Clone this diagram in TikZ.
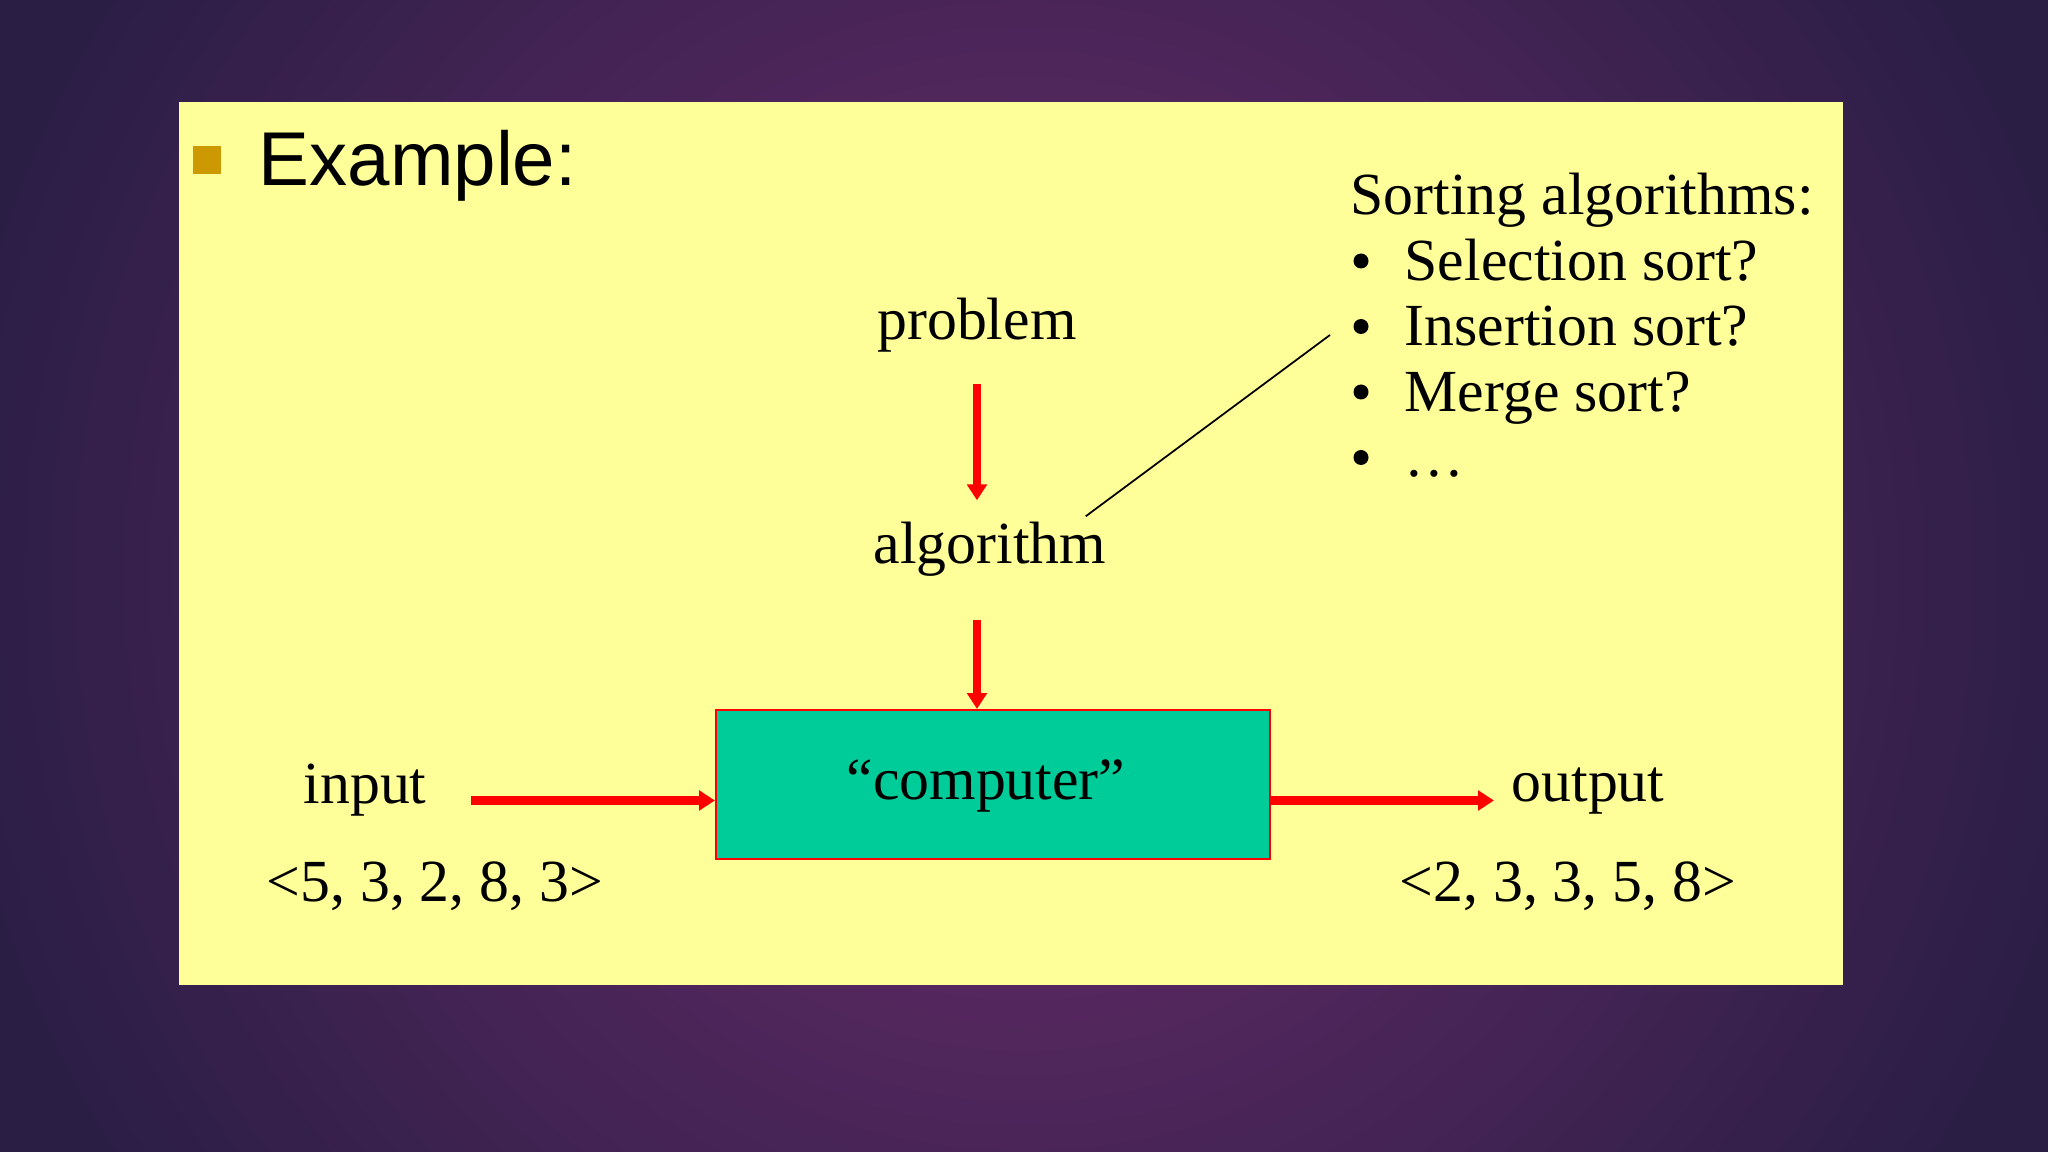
\documentclass[tikz,border=0pt]{standalone}
\usepackage{fontspec}
\setmainfont{Liberation Serif}
\newfontfamily\headfont{Liberation Sans}
\usetikzlibrary{calc, positioning}
\usetikzlibrary{arrows.meta}

\definecolor{slideyellow}{HTML}{FFFF99}
\definecolor{boxgreen}{HTML}{00CC99}
\definecolor{bulletgold}{HTML}{CC9900}
\definecolor{flowred}{HTML}{FF0000}
\definecolor{bgin}{HTML}{56285F}
\definecolor{bgout}{HTML}{2A1E45}

\tikzset{
  word/.style={inner sep=0pt, anchor=base west, text height=0.42cm, text depth=0.13cm,
    font=\fontsize{17}{20}\selectfont},
  compbox/.style={draw=red, line width=0.6pt, fill=boxgreen, inner sep=0pt,
    minimum width=5.54cm, minimum height=1.49cm, text height=0.42cm, text depth=0.13cm,
    font=\fontsize{17}{20}\selectfont},
  flow/.style={draw=flowred, line width=2pt, -{Triangle[length=4.5pt,width=5.5pt]}},
  hflow/.style={flow, line width=2.6pt}
}

\begin{document}
\begin{tikzpicture}
\def\W{20.48}
\def\H{11.52}
\useasboundingbox (0,0) rectangle (\W,-\H);

% backdrop: dark edges, purple glow in the middle
\begin{scope}
  \clip (0,0) rectangle (\W,-\H);
  \fill[bgout] (0,0) rectangle (\W,-\H);
  \foreach \k in {0,...,47} {
    \pgfmathsetmacro\rr{11.75-0.25*\k}
    \pgfmathsetmacro\p{max(0,min(100,100*(11-\rr)/7))}
    \fill[bgin!\p!bgout] (10.24,-5.76) circle (\rr);
  }
\end{scope}
\fill[slideyellow] (1.79,-1.02) rectangle (18.43,-9.85);

% heading
\fill[bulletgold] (1.93,-1.46) rectangle (2.21,-1.74);
\node[inner sep=0pt, anchor=base west, font=\headfont\fontsize{21.7}{24}\selectfont]
  (head) at (2.58,-1.86) {Example:};

\node[word, anchor=base] (prob) at (9.77,-3.40) {problem};
\node[word] (algo) at (8.73,-5.63) {algorithm};
\node[compbox] (comp) at (9.93,-7.845) {\hspace*{-0.14cm}“computer”};

\node[word] (inp) at (3.03,-8.04) {input};
\node[word] (inseq) at (2.66,-9.02) {<5, 3, 2, 8, 3>};
\node[word] (outp) at (15.11,-8.01) {output};
\node[word] (outseq) at (13.99,-9.02) {<2, 3, 3, 5, 8>};

% list of sorts
\node[word] (sorting) at (13.50,-2.15) {Sorting algorithms:};
\foreach \txt [count=\i] in {Selection sort?, Insertion sort?, Merge sort?, …} {
  \node[word] (alg\i) at (14.04,{-2.15-0.655*\i}) {\txt};
  \fill ($(alg\i.base west)+(-0.43,0.195)$) circle (0.075);
}

\draw[flow] ([yshift=-0.30cm]prob.south) -- ([yshift=0.20cm]prob.south |- algo.north);
\draw[flow] ($(prob.south |- algo.south)+(0,-0.43)$) -- (prob.south |- comp.north);
\draw[hflow] ($(inp.east |- comp.west)+(0.44,-0.16)$) -- ($(comp.west)+(0,-0.16)$);
\draw[hflow] ($(comp.east)+(0,-0.16)$) -- ($(outp.west |- comp.east)+(-0.17,-0.16)$);

\draw[line width=0.5pt] ($(algo.north east)+(-0.21,0.04)$) -- ($(alg2.base west)+(-0.74,0.11)$);
\end{tikzpicture}
\end{document}
